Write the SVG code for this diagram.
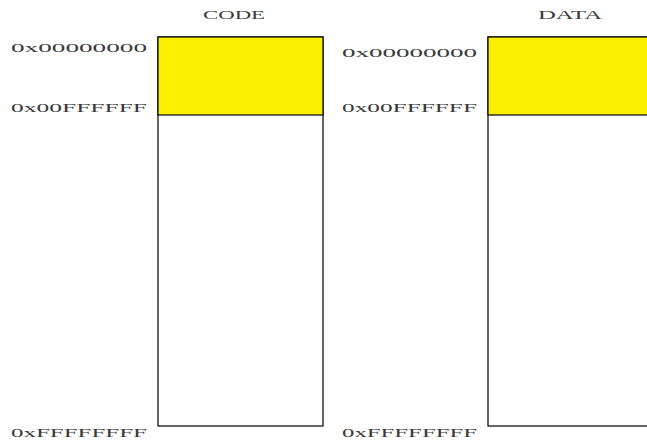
<svg xmlns="http://www.w3.org/2000/svg" width="647" height="443" viewBox="0 0 647 443">
<style>
text{font-family:"Liberation Serif",serif;font-size:12px;fill:#3a3a3a}
.title{font-size:13px}
.box{fill:#fff;stroke:#000;stroke-width:1.2}
.seg{fill:#f8f000;stroke:#000;stroke-width:1.2}
</style>
<rect width="647" height="443" fill="#fff"/>
<g id="code">
<text class="title" x="203" y="19" textLength="62" lengthAdjust="spacingAndGlyphs">CODE</text>
<rect class="box" x="158" y="37" width="165" height="389"/>
<rect class="seg" x="158" y="37" width="165" height="78"/>
<text x="11" y="52" textLength="136" lengthAdjust="spacingAndGlyphs">0x00000000</text>
<text x="11" y="112" textLength="136" lengthAdjust="spacingAndGlyphs">0x00FFFFFF</text>
<text x="11" y="437" textLength="136" lengthAdjust="spacingAndGlyphs">0xFFFFFFFF</text>
</g>
<g id="data">
<text class="title" x="538" y="19" textLength="64" lengthAdjust="spacingAndGlyphs">DATA</text>
<rect class="box" x="488" y="37" width="170" height="389"/>
<rect class="seg" x="488" y="37" width="170" height="78"/>
<text x="342" y="57" textLength="135" lengthAdjust="spacingAndGlyphs">0x00000000</text>
<text x="342" y="112" textLength="135" lengthAdjust="spacingAndGlyphs">0x00FFFFFF</text>
<text x="342" y="437" textLength="135" lengthAdjust="spacingAndGlyphs">0xFFFFFFFF</text>
</g>
<g id="connectors"/>
</svg>
